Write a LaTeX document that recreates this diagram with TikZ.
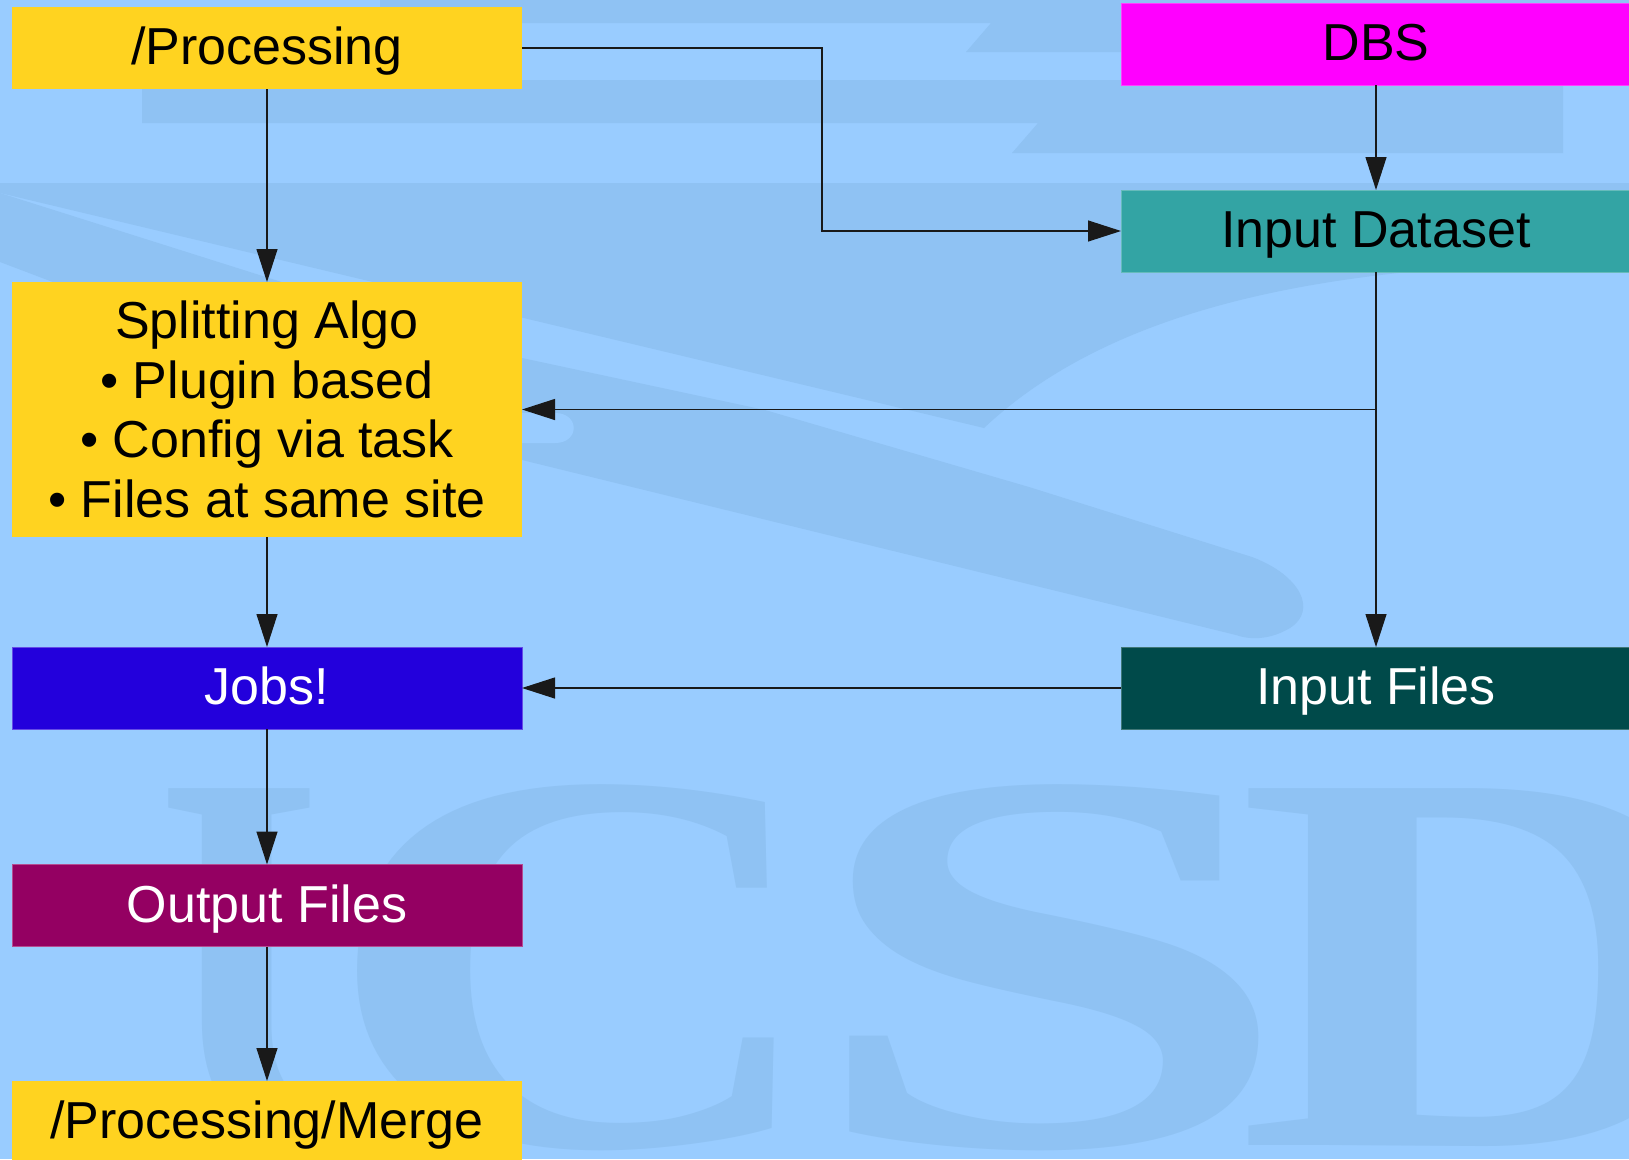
\documentclass[tikz,border=0pt]{standalone}
\usepackage{fontspec}
\usepackage{graphicx}
\setmainfont{Liberation Sans}
\newfontfamily\wmfont{Liberation Serif}
\usetikzlibrary{arrows.meta}
\definecolor{bglight}{RGB}{153,204,255}
\definecolor{bgdark}{RGB}{143,194,243}
\definecolor{gold}{RGB}{255,211,32}
\definecolor{dbsmag}{RGB}{255,0,255}
\definecolor{tealA}{RGB}{51,164,164}
\definecolor{jobblue}{RGB}{35,0,220}
\definecolor{tealB}{RGB}{0,74,74}
\definecolor{outpurple}{RGB}{148,0,98}
\begin{document}
\begin{tikzpicture}[x=1pt,y=-1pt,
  box/.style={rectangle, inner sep=0pt, outer sep=0pt, minimum width=510pt,
    minimum height=82pt, align=center, font=\fontsize{52}{59.5}\selectfont},
  oneline/.style={text height=37pt, text depth=4pt},
  arr/.style={draw=black!90, line width=1.2pt, -{Triangle[length=33pt,width=21pt]}},
  wm/.style={inner sep=0pt, outer sep=0pt, anchor=base west, text=bgdark,
    font=\wmfont\bfseries\fontsize{545}{545}\selectfont}
]
\useasboundingbox (0,0) rectangle (1629,1159);
\clip (0,0) rectangle (1629,1159);
% background and watermark
\fill[bglight] (0,0) rectangle (1629,1159);
\fill[bgdark] (380,0) -- (1629,0) -- (1629,52) -- (966,52) -- (991,23) -- (380,23) -- cycle;
\fill[bgdark] (142,80) -- (1563,80) -- (1563,153) -- (1012,153) -- (1038,123) -- (142,123) -- cycle;
\fill[bgdark] (0,183) -- (1629,183) -- (1629,262)
  .. controls (1350,262) and (1120,300) .. (984,428) -- (574,330) -- (0,193) -- cycle;
\fill[bgdark] (0,193) -- (522,358) -- (765,410) -- (1029,487) -- (1252,557)
  .. controls (1300,575) and (1318,610) .. (1290,628)
  .. controls (1270,640) and (1250,640) .. (1236,635)
  -- (522,460) -- (0,262) -- cycle;
\fill[bglight] (522,413) -- (555,413) .. controls (580,413) and (580,443) .. (555,443) -- (522,443) -- cycle;
\begin{scope}
  \clip (0,700) rectangle (318,1159);
  \node[wm] (wmU) at (157,1145) {\scalebox{0.83}[1]{U}};
\end{scope}
\node[wm] (wmC) at (323,1145) {\scalebox{1.28}[1]{C}};
\node[wm] (wmS) at (802,1145) {\scalebox{1.63}[1]{S}};
\node[wm] (wmD) at (1236,1145) {\scalebox{1.3}[1]{D}};
% boxes
\node[box, oneline, fill=gold] (proc) at (267,48) {/Processing};
\node[box, fill=gold, minimum height=255pt] (split) at (267,409.5)
  {Splitting Algo\\• Plugin based\\• Config via task\\• Files at same site};
\node[box, oneline, fill=jobblue, draw=jobblue!70!white, line width=1pt, text=white] (jobs) at (267,688) {Jobs!};
\node[box, oneline, fill=outpurple, draw=outpurple!70!white, line width=1pt, text=white] (out) at (267,905.5) {Output Files};
\node[box, oneline, fill=gold] (merge) at (267,1122) {/Processing/Merge};
\node[box, oneline, fill=dbsmag, draw=dbsmag!75!white, line width=1pt] (dbs) at (1376,44) {DBS};
\node[box, oneline, fill=tealA, draw=tealA!75!white, line width=1pt] (ids) at (1376,231) {Input Dataset};
\node[box, oneline, fill=tealB, draw=tealB!75!white, line width=1pt, text=white] (inf) at (1376,688) {Input Files};
% connectors
\coordinate (bendx) at (822,0);
\draw[arr] (proc.east) -- (proc.east -| bendx) |- (ids.west);
\draw[arr] (proc.south) -- (split.north);
\draw[arr] (dbs.south) -- (ids.north);
\draw[arr] (ids.south) -- (inf.north);
\coordinate (branch) at (ids.south |- split.east);
\draw[arr] (branch) -- (split.east);
\draw[arr] (inf.west) -- (jobs.east);
\draw[arr] (split.south) -- (jobs.north);
\draw[arr] (jobs.south) -- (out.north);
\draw[arr] (out.south) -- (merge.north);
\end{tikzpicture}
\end{document}
